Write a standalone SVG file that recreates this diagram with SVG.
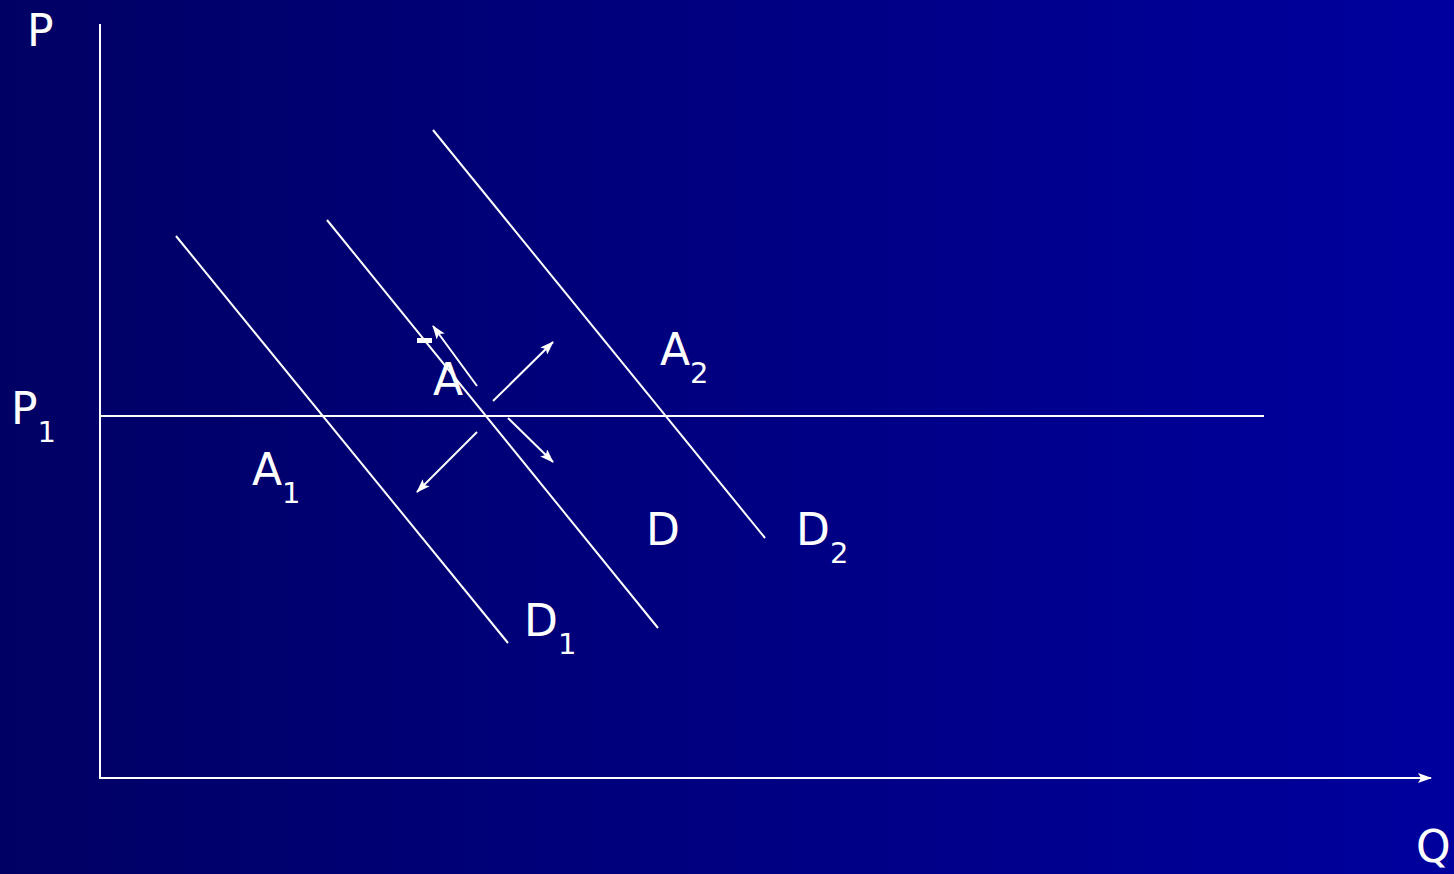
<svg xmlns="http://www.w3.org/2000/svg" width="1454" height="874" viewBox="0 0 1454 874">
<defs>
<linearGradient id="bg" x1="0" y1="0" x2="1" y2="0">
<stop offset="0" stop-color="#000064"/>
<stop offset="1" stop-color="#00009E"/>
</linearGradient>
<marker id="ah" viewBox="0 0 14 10" refX="13" refY="5" markerWidth="14" markerHeight="10" markerUnits="userSpaceOnUse" orient="auto">
<path d="M0,0 L14,5 L0,10 L3,5 Z" fill="#ffffff"/>
</marker>
<style>
.ln{stroke:#ffffff;stroke-width:2;fill:none}
.ar{stroke:#ffffff;stroke-width:2;fill:none;marker-end:url(#ah)}
.t{font-family:"DejaVu Sans","Liberation Sans",sans-serif;font-size:44px;fill:#ffffff}
.s{font-size:29px}
</style>
</defs>
<rect x="0" y="0" width="1454" height="874" fill="url(#bg)"/>
<g id="connectors">
<line class="ln" x1="100" y1="24" x2="100" y2="779"/>
<line class="ar" x1="99" y1="778" x2="1431" y2="778"/>
<line class="ln" x1="100" y1="416" x2="1264" y2="416"/>
<line class="ln" x1="176" y1="236" x2="508" y2="643"/>
<line class="ln" x1="327" y1="220" x2="658" y2="628"/>
<line class="ln" x1="433" y1="130" x2="765" y2="538"/>
<line class="ar" x1="477" y1="386" x2="433" y2="326"/>
<line class="ar" x1="493" y1="401" x2="553" y2="342"/>
<line class="ar" x1="508" y1="418" x2="553" y2="462"/>
<line class="ar" x1="477" y1="432" x2="417" y2="492"/>
</g>
<g id="label-P"><text class="t" x="27" y="46">P</text></g>
<g id="label-P1"><text class="t" x="11" y="424">P<tspan class="s" dy="18">1</tspan></text></g>
<g id="label-dash"><rect x="417" y="338" width="15" height="5" fill="#ffffff"/></g>
<g id="label-A"><text class="t" x="433" y="395">A</text></g>
<g id="label-A1"><text class="t" x="252" y="485">A<tspan class="s" dy="18">1</tspan></text></g>
<g id="label-A2"><text class="t" x="660" y="365">A<tspan class="s" dy="18">2</tspan></text></g>
<g id="label-D"><text class="t" x="646" y="545">D</text></g>
<g id="label-D2"><text class="t" x="796" y="545">D<tspan class="s" dy="18">2</tspan></text></g>
<g id="label-D1"><text class="t" x="524" y="636">D<tspan class="s" dy="18">1</tspan></text></g>
<g id="label-Q"><text class="t" x="1416" y="862">Q</text></g>
</svg>
